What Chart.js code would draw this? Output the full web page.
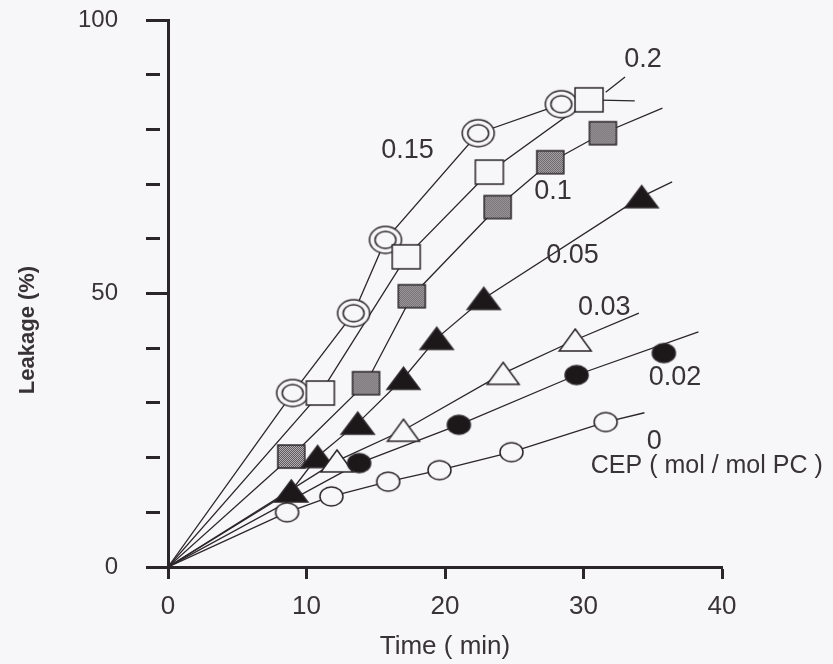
<!DOCTYPE html>
<html><head><meta charset="utf-8">
<script src="https://cdn.jsdelivr.net/npm/chart.js@4.4.1/dist/chart.umd.min.js"></script>
<style>html,body{margin:0;padding:0;background:#f7f6f8;}#wrap{width:833px;height:664px;position:relative;}</style>
</head><body><div id="wrap"><canvas id="c" width="833" height="664"></canvas></div>
<script>
// ---------------- data ----------------
const xTicks = [0, 10, 20, 30, 40];
const yMajor = [0, 50, 100];

// CEP 0 : open circles
const cep0_t = [8.6, 11.8, 15.9, 19.6, 24.8, 31.6];
const cep0_y = [10.0, 12.9, 15.6, 17.7, 21.0, 26.5];
const cep0_lineT = [0, 8.6, 11.8, 15.9, 19.6, 24.8, 31.6, 34.4];
const cep0_lineY = [0, 10.0, 12.9, 15.6, 17.7, 21.0, 26.5, 28.2];

// CEP 0.02 : filled circles
const cep002_t = [13.8, 21.0, 29.5, 35.8];
const cep002_y = [19.0, 26.0, 35.1, 39.1];
const cep002_lineT = [0, 13.8, 21.0, 29.5, 38.3];
const cep002_lineY = [0, 19.0, 26.0, 35.1, 43.0];

// CEP 0.03 : open triangles
const cep003_t = [12.2, 17.0, 24.2, 29.4];
const cep003_y = [19.4, 25.0, 35.4, 41.5];
const cep003_lineT = [0, 12.2, 17.0, 24.2, 29.4, 34.0];
const cep003_lineY = [0, 19.4, 25.0, 35.4, 41.5, 46.4];

// CEP 0.05 : filled triangles
const cep005_t = [8.9, 10.8, 13.7, 17.0, 19.4, 22.8, 34.2];
const cep005_y = [13.9, 20.2, 26.3, 34.5, 41.8, 49.1, 67.7];
const cep005_lineT = [0, 8.9, 10.8, 13.7, 17.0, 19.4, 22.8, 34.2, 36.4];
const cep005_lineY = [0, 13.9, 20.2, 26.3, 34.5, 41.8, 49.1, 67.7, 70.4];

// CEP 0.1 : checkered squares
const cep01_t = [8.9, 14.3, 17.6, 23.8, 27.6, 31.4];
const cep01_y = [20.2, 33.6, 49.5, 65.8, 74.0, 79.3];
const cep01_lineT = [0, 8.9, 14.3, 17.6, 23.8, 27.6, 31.4, 35.7];
const cep01_lineY = [0, 20.2, 33.6, 49.5, 65.8, 74.0, 79.3, 83.9];

// CEP 0.15 : double circles
const cep015_t = [9.0, 13.4, 15.7, 22.4, 28.4];
const cep015_y = [31.8, 46.4, 59.8, 79.3, 84.6];
const cep015_lineT = [0, 9.0, 13.4, 15.7, 22.4, 28.4];
const cep015_lineY = [0, 31.8, 46.4, 59.8, 79.3, 84.6];

// CEP 0.2 : open squares
const cep02_t = [11.0, 17.2, 23.2, 30.4];
const cep02_y = [31.8, 56.7, 72.2, 85.4];
const cep02_lineT = [0, 11.0, 17.2, 23.2, 30.4, 33.7];
const cep02_lineY = [0, 31.8, 56.7, 72.2, 85.4, 85.2];

// leader line for the "0.2" label
const leaderT = [31.6, 33.0];
const leaderY = [86.8, 89.6];

// in-plot labels
const labelText = ['0.2', '0.15', '0.1', '0.05', '0.03', '0.02', '0', 'CEP ( mol / mol PC )'];
const labelT = [34.3, 17.3, 27.8, 29.2, 31.5, 36.6, 35.1, 38.9];
const labelY = [92.7, 76.1, 68.7, 56.9, 47.5, 34.7, 23.0, 18.5];

// ---------------- styling ----------------
const INK = '#2b2629', TXT = '#383336', BG = '#f7f6f8';
const SANS = "'Liberation Sans', Arial, sans-serif";
const NARROW = "'Liberation Sans Narrow', 'Liberation Sans', Arial, sans-serif";

function marker(kind) {
  const sizes = {oc: [23, 19], fc: [23, 19], ot: [32, 22], ft: [33, 22], cs: [27, 23], os: [28, 24], dc: [32, 27]};
  const s = sizes[kind];
  const w = s[0] + 4, h = s[1] + 4;
  const c = document.createElement('canvas');
  c.width = w; c.height = h;
  const g = c.getContext('2d');
  g.lineWidth = 1.5; g.strokeStyle = INK; g.fillStyle = BG;
  const cx = w / 2, cy = h / 2, rx = s[0] / 2, ry = s[1] / 2;
  if (kind === 'oc' || kind === 'fc') {
    g.beginPath(); g.ellipse(cx, cy, rx, ry, 0, 0, Math.PI * 2);
    if (kind === 'fc') { g.fillStyle = '#1c181a'; }
    g.fill(); g.stroke();
  } else if (kind === 'dc') {
    g.beginPath(); g.ellipse(cx, cy, rx, ry, 0, 0, Math.PI * 2); g.fill(); g.stroke();
    g.beginPath(); g.ellipse(cx, cy, rx - 5.5, ry - 5, 0, 0, Math.PI * 2); g.stroke();
  } else if (kind === 'ot' || kind === 'ft') {
    g.beginPath(); g.moveTo(cx, cy - ry); g.lineTo(cx + rx, cy + ry); g.lineTo(cx - rx, cy + ry); g.closePath();
    if (kind === 'ft') { g.fillStyle = '#1c181a'; }
    g.fill(); g.stroke();
  } else if (kind === 'os') {
    g.fillRect(cx - rx, cy - ry, s[0], s[1]); g.strokeRect(cx - rx, cy - ry, s[0], s[1]);
  } else if (kind === 'cs') {
    const x0 = Math.round(cx - rx), y0 = Math.round(cy - ry);
    for (let yy = 0; yy < s[1]; yy++) for (let xx = 0; xx < s[0]; xx++) {
      g.fillStyle = ((xx + yy) % 2 === 0) ? '#3a3538' : '#d8d6d9';
      g.fillRect(x0 + xx, y0 + yy, 1, 1);
    }
    g.strokeRect(cx - rx, cy - ry, s[0], s[1]);
  }
  return c;
}

const pts = (t, y) => t.map((v, i) => ({x: v, y: y[i]}));
const lineDs = (t, y) => ({data: pts(t, y), showLine: true, borderColor: INK, borderWidth: 1.3, pointRadius: 0, fill: false, order: 2});
const markDs = (t, y, kind) => ({data: pts(t, y), showLine: false, pointStyle: marker(kind), pointRadius: 10, order: 1});

const datasets = [
  lineDs(cep0_lineT, cep0_lineY),
  lineDs(cep002_lineT, cep002_lineY),
  lineDs(cep003_lineT, cep003_lineY),
  lineDs(cep005_lineT, cep005_lineY),
  lineDs(cep01_lineT, cep01_lineY),
  lineDs(cep015_lineT, cep015_lineY),
  lineDs(cep02_lineT, cep02_lineY),
  lineDs(leaderT, leaderY),
  markDs(cep0_t, cep0_y, 'oc'),
  markDs(cep002_t, cep002_y, 'fc'),
  markDs(cep003_t, cep003_y, 'ot'),
  markDs(cep005_t, cep005_y, 'ft'),
  markDs(cep01_t, cep01_y, 'cs'),
  markDs(cep02_t, cep02_y, 'os'),
  markDs(cep015_t, cep015_y, 'dc')
];

const annot = {
  id: 'annot',
  afterDatasetsDraw(chart) {
    const g = chart.ctx, xs = chart.scales.x, ys = chart.scales.y;
    g.save();
    g.fillStyle = TXT; g.textAlign = 'center'; g.textBaseline = 'middle';
    labelText.forEach((txt, i) => {
      g.font = (txt.length > 5 ? '25px ' : '27px ') + SANS;
      g.fillText(txt, xs.getPixelForValue(labelT[i]), ys.getPixelForValue(labelY[i]));
    });
    // y axis title
    g.translate(28, 330); g.rotate(-Math.PI / 2);
    g.font = 'bold 22px ' + SANS;
    g.fillText('Leakage (%)', 0, 0);
    g.restore();
  }
};

new Chart(document.getElementById('c'), {
  type: 'scatter',
  data: {datasets},
  options: {
    responsive: false, animation: false,
    layout: {padding: {left: 0, top: 20, right: 111, bottom: 0}},
    plugins: {legend: {display: false}, tooltip: {enabled: false}},
    scales: {
      x: {
        type: 'linear', min: 0, max: 40,
        afterBuildTicks: s => { s.ticks = xTicks.map(v => ({value: v})); },
        border: {display: true, color: INK, width: 3},
        grid: {drawOnChartArea: false, drawTicks: true, tickLength: 12, tickWidth: 3, tickColor: INK},
        ticks: {padding: 12, color: TXT, font: {family: NARROW, size: 26}, maxRotation: 0},
        title: {display: true, text: 'Time ( min)', color: TXT, font: {family: NARROW, size: 26}, padding: {top: 0, bottom: 2}},
        afterFit: s => { s.height = 97; s.paddingLeft = 0; s.paddingRight = 0; }
      },
      y: {
        type: 'linear', min: 0, max: 100,
        ticks: {stepSize: 10, callback: v => yMajor.includes(v) ? String(v) : '', padding: 28, color: TXT, font: {family: SANS, size: 24}},
        border: {display: true, color: INK, width: 3},
        grid: {drawOnChartArea: false, drawTicks: true, tickLength: 22, tickWidth: 3, tickColor: INK,
               tickBorderDash: ctx => (ctx.tick && yMajor.includes(ctx.tick.value)) ? [] : [14, 60]},
        afterFit: s => { s.width = 168; s.paddingTop = 0; s.paddingBottom = 0; }
      }
    }
  },
  plugins: [annot]
});
</script></body></html>
